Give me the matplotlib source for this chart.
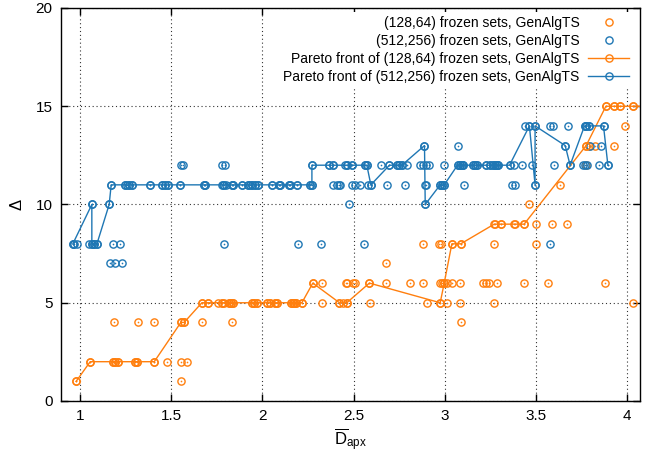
import matplotlib
matplotlib.use("Agg")
import matplotlib.pyplot as plt
from matplotlib.lines import Line2D

plt.rcParams['font.family'] = ['Liberation Sans', 'DejaVu Sans']
plt.rcParams['mathtext.fontset'] = 'custom'
plt.rcParams['mathtext.rm'] = 'Liberation Sans'
plt.rcParams['mathtext.it'] = 'Liberation Sans:italic'

ORANGE = '#ff7f0e'
BLUE = '#1f77b4'

# ---------------- data ----------------
# (128,64) frozen sets, all points: x values grouped by Delta
o_pts = {
    1: [0.98, 1.554],
    2: [1.057, 1.181, 1.194, 1.209, 1.304, 1.316, 1.408, 1.477, 1.554, 1.587],
    4: [1.185, 1.318, 1.408, 1.554, 1.572, 1.669, 1.833, 3.088],
    5: [1.669, 1.705, 1.76, 1.778, 1.791, 1.815, 1.828, 1.839, 1.943, 1.956, 1.97,
        2.025, 2.043, 2.071, 2.08, 2.157, 2.168, 2.175, 2.186, 2.217, 2.327, 2.423,
        2.442, 2.463, 2.591, 2.905, 2.975, 3.01, 3.083, 3.271, 4.034],
    6: [2.277, 2.327, 2.46, 2.463, 2.496, 2.509, 2.587, 2.679, 2.81, 2.883, 2.975,
        2.984, 2.997, 3.01, 3.039, 3.083, 3.212, 3.227, 3.24, 3.289, 3.437, 3.568, 3.879],
    7: [2.679],
    8: [2.883, 2.971, 2.979, 3.039, 3.088, 3.272, 3.501],
    9: [3.276, 3.309, 3.386, 3.435, 3.501, 3.589, 3.669],
    10: [3.459],
    11: [3.633],
    12: [3.775],
    13: [3.775, 3.788, 3.825, 3.929],
    14: [3.989],
    15: [3.883, 3.929, 3.961, 4.034],
}

# (512,256) frozen sets, all points
b_pts = {
    7: [1.163, 1.194, 1.23],
    8: [0.962, 0.969, 0.987, 1.048, 1.066, 1.08, 1.094, 1.18, 1.221, 1.79, 2.198,
        2.321, 2.558, 3.578],
    10: [1.066, 1.161, 2.478, 2.893],
    11: [1.172, 1.249, 1.258, 1.267, 1.285, 1.386, 1.45, 1.468, 1.486, 1.55, 1.678,
         1.687, 1.778, 1.791, 1.80, 1.833, 1.842, 1.888, 1.924, 1.934, 1.942, 1.961,
         1.979, 2.053, 2.089, 2.098, 2.144, 2.153, 2.19, 2.262, 2.272, 2.39, 2.409,
         2.418, 2.427, 2.491, 2.509, 2.536, 2.582, 2.595, 2.683, 2.783, 2.893, 2.898,
         2.975, 2.984, 2.997, 3.106, 3.368, 3.386, 3.495],
    12: [1.554, 1.568, 1.778, 1.797, 2.272, 2.363, 2.39, 2.454, 2.463, 2.491, 2.564,
         2.573, 2.65, 2.697, 2.737, 2.752, 2.765, 2.792, 2.865, 2.883, 2.898, 2.916,
         2.997, 3.07, 3.081, 3.094, 3.102, 3.157, 3.166, 3.179, 3.227, 3.249, 3.263,
         3.276, 3.285, 3.294, 3.355, 3.377, 3.422, 3.477, 3.596, 3.687, 3.757, 3.77,
         3.779, 3.848, 3.894],
    13: [2.889, 3.075, 3.66, 3.797, 3.855],
    14: [3.441, 3.464, 3.495, 3.578, 3.592, 3.678, 3.766, 3.775, 3.788, 3.87],
}

# Pareto fronts
o_front_x = [0.98, 1.057, 1.181, 1.194, 1.209, 1.304, 1.316, 1.408, 1.554, 1.572,
             1.669, 1.705, 1.778, 1.815, 1.828, 1.839, 1.943, 1.956, 1.97, 2.025,
             2.043, 2.071, 2.08, 2.157, 2.168, 2.175, 2.186, 2.217, 2.277, 2.423,
             2.463, 2.587, 2.975, 2.997, 3.039, 3.088, 3.271, 3.307, 3.38, 3.435,
             3.775, 3.883, 3.929, 3.961, 4.034, 4.2]
o_front_y = [1, 2, 2, 2, 2, 2, 2, 2, 4, 4,
             5, 5, 5, 5, 5, 5, 5, 5, 5, 5,
             5, 5, 5, 5, 5, 5, 5, 5, 6, 5,
             5, 6, 5, 6, 8, 8, 9, 9, 9, 9,
             13, 15, 15, 15, 15, 15]

b_front_x = [0.962, 1.066, 1.066, 1.08, 1.094, 1.161, 1.172, 1.249, 1.267, 1.285,
             1.386, 1.45, 1.468, 1.486, 1.55, 1.678, 1.687, 1.787, 1.833, 1.842,
             1.888, 1.924, 1.942, 1.961, 1.979, 2.053, 2.089, 2.098, 2.144, 2.153,
             2.19, 2.262, 2.272, 2.272, 2.363, 2.39, 2.463, 2.491, 2.564, 2.573,
             2.595, 2.697, 2.737, 2.752, 2.765, 2.889, 2.893, 2.975, 2.984, 2.997,
             3.07, 3.081, 3.094, 3.102, 3.157, 3.166, 3.179, 3.227, 3.249, 3.263,
             3.276, 3.285, 3.294, 3.355, 3.464, 3.495, 3.495, 3.66, 3.687, 3.766,
             3.775, 3.788, 3.87, 3.894]
b_front_y = [8, 10, 8, 8, 8, 10, 11, 11, 11, 11,
             11, 11, 11, 11, 11, 11, 11, 11, 11, 11,
             11, 11, 11, 11, 11, 11, 11, 11, 11, 11,
             11, 11, 11, 12, 12, 12, 12, 12, 12, 12,
             11, 12, 12, 12, 12, 13, 10, 11, 11, 11,
             12, 12, 12, 12, 12, 12, 12, 12, 12, 12,
             12, 12, 12, 12, 14, 11, 14, 13, 12, 14,
             14, 14, 14, 12]

x_ticks = [1, 1.5, 2, 2.5, 3, 3.5, 4]
x_tick_labels = ['1', '1.5', '2', '2.5', '3', '3.5', '4']
y_ticks = [0, 5, 10, 15, 20]

labels = ['(128,64) frozen sets, GenAlgTS',
          '(512,256) frozen sets, GenAlgTS',
          'Pareto front of (128,64) frozen sets, GenAlgTS',
          'Pareto front of (512,256) frozen sets, GenAlgTS']


def flatten(d):
    xs, ys = [], []
    for y, xl in d.items():
        xs.extend(xl)
        ys.extend([y] * len(xl))
    return xs, ys


fig = plt.figure(figsize=(6.57, 4.53), dpi=100)
ax = fig.add_axes([61 / 657, 1 - 401 / 453, (640 - 61) / 657, (401 - 8) / 453])

ms = 5.2
mew = 1.0


def circ(x, y, color, zorder):
    ax.plot(x, y, ls='none', marker='o', ms=ms, mfc='none', mec=color, mew=mew,
            zorder=zorder)
    ax.plot(x, y, ls='none', marker='o', ms=1.2, mfc=color, mec=color, mew=0,
            zorder=zorder)


ox, oy = flatten(o_pts)
bx, by = flatten(b_pts)
circ(ox, oy, ORANGE, 3)
circ(bx, by, BLUE, 3)

ax.plot(o_front_x, o_front_y, color=ORANGE, lw=1.0, zorder=4)
circ(o_front_x, o_front_y, ORANGE, 4)
ax.plot(b_front_x, b_front_y, color=BLUE, lw=1.0, zorder=4)
circ(b_front_x, b_front_y, BLUE, 4)

ax.set_xlim(0.897, 4.07)
ax.set_ylim(0, 20)
ax.set_xticks(x_ticks)
ax.set_xticklabels(x_tick_labels)
ax.set_yticks(y_ticks)
ax.tick_params(direction='in', top=True, right=True, length=5, width=1,
               labelsize=11, pad=6)
for s in ax.spines.values():
    s.set_linewidth(1.0)
ax.grid(True, color='black', ls=(0, (1, 2.5)), lw=0.8, alpha=0.8)
ax.set_axisbelow(True)

ax.set_xlabel(r'$\overline{\mathrm{D}}_{\mathrm{apx}}$', fontsize=12, labelpad=2)
ax.set_ylabel('Δ', fontsize=12, labelpad=8, rotation=90)

h = [Line2D([], [], ls='none', marker='o', ms=ms, mfc='none', mec=ORANGE, mew=mew),
     Line2D([], [], ls='none', marker='o', ms=ms, mfc='none', mec=BLUE, mew=mew),
     Line2D([], [], color=ORANGE, lw=1.0, marker='o', ms=ms, mfc='none', mec=ORANGE, mew=mew),
     Line2D([], [], color=BLUE, lw=1.0, marker='o', ms=ms, mfc='none', mec=BLUE, mew=mew)]
leg = ax.legend(h, labels, loc='upper right', bbox_to_anchor=(0.995, 1.0),
                frameon=True, markerfirst=False, fontsize=10, handlelength=3.0,
                labelspacing=0.3, handletextpad=0.6, borderaxespad=0.3,
                borderpad=0.25, numpoints=1)
leg.get_frame().set_facecolor('white')
leg.get_frame().set_edgecolor('none')
leg.get_frame().set_alpha(1)
for t in leg.get_texts():
    t.set_ha('right')
leg._legend_box.align = 'right'

fig.savefig('out.png', dpi=100)
